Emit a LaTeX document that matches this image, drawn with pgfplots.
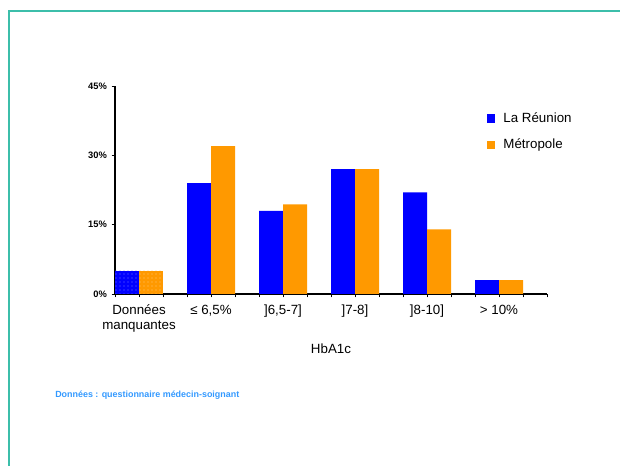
\documentclass[border=0pt]{standalone}
\usepackage{fontspec}
\setmainfont{Liberation Sans}
\usepackage{pgfplots}
\pgfplotsset{compat=1.18}
\usetikzlibrary{patterns}
\definecolor{reublue}{RGB}{0,0,255}
\definecolor{metor}{RGB}{255,153,0}
\definecolor{framec}{RGB}{60,190,170}
\definecolor{notec}{RGB}{51,153,255}
\begin{document}
\begin{tikzpicture}
\useasboundingbox (0pt,0pt) rectangle (465pt,349.5pt);
\draw[framec, line width=1.1pt] (6.75pt,-5pt) -- (6.75pt,341.25pt) -- (470pt,341.25pt);
\node[anchor=west, inner sep=0pt, text=notec, font=\fontsize{6.7}{7.5}\selectfont\bfseries] at (41.25pt,53.25pt) {Données : questionnaire médecin-soignant};
\begin{axis}[
  at={(86.25pt,129pt)}, anchor=south west,
  width=324pt, height=156pt, scale only axis,
  xmin=-0.33333, xmax=5.66667, ymin=0, ymax=45,
  axis x line*=bottom, axis y line*=left,
  axis line style={line width=0.8pt},
  tick align=outside,
  major tick length=2.6pt, minor tick length=2.6pt,
  tick style={black, line width=0.7pt},
  xtick={0,1,2,3,4,5},
  xticklabels={{Données\\manquantes},{≤ 6,5\%},{]6,5-7]},{]7-8]},{]8-10]},{> 10\%}},
  minor xtick={-0.33333,0.33333,0.66667,1.33333,1.66667,2.33333,2.66667,3.33333,3.66667,4.33333,4.66667,5.33333,5.66667},
  xticklabel style={font=\fontsize{10}{11.25}\selectfont, align=center, yshift=-2.2pt},
  ytick={0,15,30,45},
  yticklabel={\pgfmathprintnumber{\tick}\%},
  /pgf/number format/assume math mode=true,
  yticklabel style={font=\fontsize{7}{8}\selectfont\bfseries},
  xlabel={HbA1c},
  xlabel style={at={(axis description cs:0.5,-0.264)}, anchor=center, font=\fontsize{10}{12}\selectfont},
  legend style={draw=none, fill=none, at={(axis description cs:0.851,0.90)}, anchor=north west, font=\fontsize{10}{12}\selectfont, row sep=7.2pt,
    /tikz/every odd column/.append style={column sep=5pt}},
  legend cell align=left,
]
\addplot[ybar, bar width=0.33333, bar shift=-0.16667, fill=reublue, draw=none, forget plot,
  postaction={pattern=dots, pattern color=white!45!reublue}] coordinates {(0,5)};
\addplot[ybar, bar width=0.33333, bar shift=0.16667, fill=metor, draw=none, forget plot,
  postaction={pattern=dots, pattern color=white!45!metor}] coordinates {(0,5)};
\addplot[ybar, bar width=0.33333, bar shift=-0.16667, fill=reublue, draw=none, forget plot]
  coordinates {(1,24) (2,18) (3,27) (4,22) (5,3)};
\addplot[ybar, bar width=0.33333, bar shift=0.16667, fill=metor, draw=none, forget plot]
  coordinates {(1,32) (2,19.4) (3,27) (4,14) (5,3)};
\addlegendimage{only marks, mark=square*, mark size=2.7pt, color=reublue}
\addlegendentry{La Réunion}
\addlegendimage{only marks, mark=square*, mark size=2.7pt, color=metor}
\addlegendentry{Métropole}
\end{axis}
\end{tikzpicture}
\end{document}
